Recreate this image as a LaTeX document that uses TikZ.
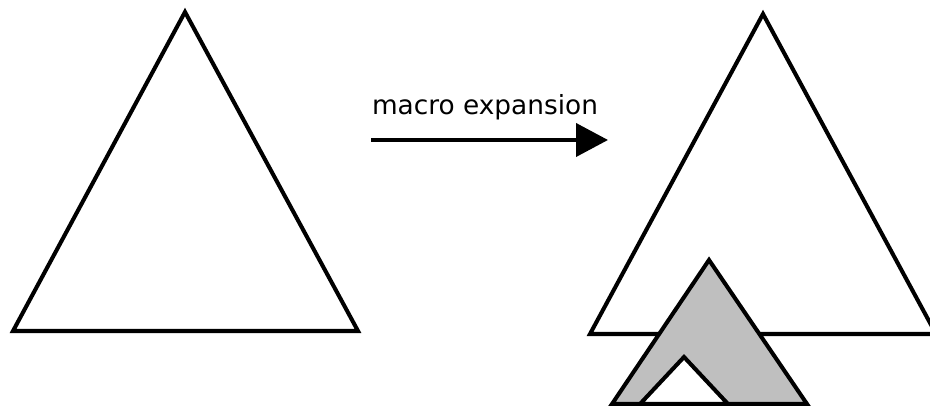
\documentclass[tikz,border=0pt]{standalone}
\usepackage{fontspec}
\setmainfont{DejaVu Sans}
\usetikzlibrary{arrows.meta}

\begin{document}
\begin{tikzpicture}[line width=2.3pt,>={Triangle[length=6.4mm,width=6.6mm]},
  tri/.style={line width=2.3pt,line join=miter},
  expand/.style={->,line width=2.3pt,shorten >=0pt}]
  \useasboundingbox (0,0) rectangle (18.6,8.12);
  % arbol original
  \draw[tri] (3.70,7.88)--(0.26,1.50)--(7.16,1.50)--cycle;
  % arbol expandido
  \draw[tri] (15.26,7.84)--(11.80,1.44)--(18.72,1.44)--cycle;
  % subarbol insertado (gris) con hueco
  \filldraw[tri,fill=black!25] (14.18,2.92)--(12.24,0.04)--(16.14,0.04)--cycle;
  \filldraw[tri,fill=white] (13.68,0.98)--(12.80,0.04)--(14.56,0.04)--cycle;
  % flecha de expansion
  \coordinate (src) at (7.42,5.32);
  \coordinate (dst) at (12.16,5.32);
  \draw[expand] (src)--(dst);
  \node[anchor=base west,inner sep=0pt,font=\fontsize{15}{18}\selectfont] (lbl) at (7.40,5.82){macro expansion};
\end{tikzpicture}
\end{document}
